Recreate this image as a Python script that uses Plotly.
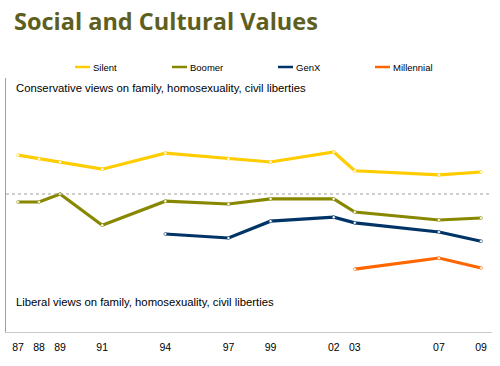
import plotly.graph_objects as go

years = [1987, 1988, 1989, 1991, 1994, 1997, 1999, 2002, 2003, 2007, 2009]
tick_labels = ["87", "88", "89", "91", "94", "97", "99", "02", "03", "07", "09"]

silent_years = [1987, 1988, 1989, 1991, 1994, 1997, 1999, 2002, 2003, 2007, 2009]
silent = [0.97, 0.88, 0.80, 0.62, 1.02, 0.88, 0.80, 1.05, 0.58, 0.48, 0.55]

boomer_years = [1987, 1988, 1989, 1991, 1994, 1997, 1999, 2002, 2003, 2007, 2009]
boomer = [-0.20, -0.20, 0.0, -0.78, -0.18, -0.25, -0.12, -0.12, -0.45, -0.65, -0.60]

genx_years = [1994, 1997, 1999, 2002, 2003, 2007, 2009]
genx = [-1.00, -1.10, -0.68, -0.58, -0.72, -0.95, -1.18]

mill_years = [2003, 2007, 2009]
millennial = [-1.88, -1.60, -1.85]

series = [
    ("Silent", silent_years, silent, "#FFCC00"),
    ("Boomer", boomer_years, boomer, "#888800"),
    ("GenX", genx_years, genx, "#003366"),
    ("Millennial", mill_years, millennial, "#FF6600"),
]

fig = go.Figure()
for name, xs, ys, col in series:
    fig.add_trace(go.Scatter(
        x=xs, y=ys, name=name, mode="lines+markers",
        line=dict(color=col, width=3.2),
        marker=dict(size=3, color="white", line=dict(color=col, width=0.5)),
        showlegend=False,
    ))

# zero reference line
fig.add_hline(y=0, line=dict(color="#A0A0A0", width=1, dash="dot"))

# custom legend
legend_x = [75, 172, 278, 375]
W, H = 500, 366
PW, PH = 486, 254
for (name, xs, ys, col), lx in zip(series, legend_x):
    fig.add_shape(type="line", xref="paper", yref="paper",
                  x0=(lx - 6) / PW, x1=(lx + 9) / PW,
                  y0=(332 - 67) / PH, y1=(332 - 67) / PH,
                  line=dict(color=col, width=2.5))
    fig.add_annotation(xref="paper", yref="paper", x=(lx + 10) / PW, y=(332 - 67) / PH,
                       text=name, showarrow=False, xanchor="left", yanchor="middle",
                       font=dict(family="Arial", size=9.5, color="#000000"))

fig.add_annotation(xref="paper", yref="paper", x=8 / PW, y=(332 - 88) / PH,
                   text="Conservative views on family, homosexuality, civil liberties",
                   showarrow=False, xanchor="left", yanchor="middle",
                   font=dict(family="Arial", size=11.3, color="#000000"))
fig.add_annotation(xref="paper", yref="paper", x=8 / PW, y=(332 - 302) / PH,
                   text="Liberal views on family, homosexuality, civil liberties",
                   showarrow=False, xanchor="left", yanchor="middle",
                   font=dict(family="Arial", size=11.3, color="#000000"))

fig.update_layout(
    width=W, height=H,
    margin=dict(l=6, r=8, t=78, b=34, autoexpand=False),
    paper_bgcolor="white", plot_bgcolor="white",
    title=dict(text="Social and Cultural Values", x=14 / W, xanchor="left",
               y=1 - 22 / H, yanchor="middle",
               font=dict(family="Open Sans", size=23.5, weight=700, color="#5E5E20")),
    xaxis=dict(range=[1986.43, 2009.52], tickmode="array", tickvals=years,
               ticktext=tick_labels, showgrid=False, zeroline=False,
               showline=True, linecolor="#C8C8C8", linewidth=1,
               ticks="", ticklabelstandoff=5,
               tickfont=dict(family="Arial", size=10.5, color="#000000")),
    yaxis=dict(range=[-3.45, 2.9], showgrid=False, zeroline=False,
               showticklabels=False, showline=True, linecolor="#A0A0A0",
               linewidth=1, ticks=""),
)

fig.write_html("out.html", config={"displayModeBar": False},
               post_script="document.body.style.margin='0';")
